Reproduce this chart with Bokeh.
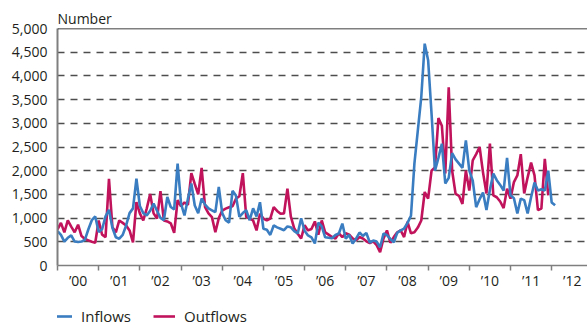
from bokeh.plotting import figure
from bokeh.layouts import column
from bokeh.models import (Range1d, FixedTicker, NumeralTickFormatter, Span,
                          Legend, LegendItem)
from bokeh.embed import file_html
from bokeh.resources import INLINE

# ---------------- data ----------------
START_YEAR = 2000
tick_years = list(range(2000, 2013))
year_labels = ["’00", "’01", "’02", "’03", "’04", "’05", "’06",
               "’07", "’08", "’09", "’10", "’11", "’12"]
y_ticks = [0, 500, 1000, 1500, 2000, 2500, 3000, 3500, 4000, 4500, 5000]
series_names = ["Inflows", "Outflows"]

# monthly values, Jan 2000 onwards
inflows = [
    725, 645, 505, 585, 635, 505, 495, 505, 545, 765, 955, 1035,        # 2000
    705, 765, 1035, 1175, 795, 595, 565, 645, 845, 1105, 1205, 1830,    # 2001
    1255, 1105, 1055, 1155, 1305, 1155, 1005, 955, 1445, 1235, 1185, 2150,  # 2002
    1305, 1055, 1405, 1730, 1265, 1105, 1415, 1285, 1205, 1165, 1125, 1660,  # 2003
    1105, 955, 905, 1575, 1475, 1025, 1105, 1165, 955, 1205, 1035, 1335,    # 2004
    775, 755, 645, 845, 805, 775, 745, 825, 805, 725, 675, 995,         # 2005
    735, 635, 595, 465, 905, 825, 595, 585, 575, 645, 675, 885,         # 2006
    565, 645, 465, 565, 695, 625, 685, 485, 525, 505, 385, 675,         # 2007
    640, 560, 490, 690, 740, 780, 900, 1050, 2150, 2850, 3550, 4680,    # 2008
    4330, 3200, 2000, 2270, 2570, 1730, 1850, 2370, 2240, 2150, 2060, 2640,  # 2009
    2000, 1790, 1230, 1400, 1540, 1170, 1600, 1940, 1800, 1700, 1580, 2270,  # 2010
    1480, 1420, 1100, 1410, 1380, 1100, 1440, 1750, 1580, 1610, 1580, 2000,  # 2011
    1330, 1270,                                                          # 2012
]
outflows = [
    760, 900, 700, 950, 820, 700, 860, 620, 560, 530, 500, 480,         # 2000
    950, 650, 600, 1830, 810, 700, 950, 900, 845, 740, 490, 1335,       # 2001
    1100, 950, 1200, 1510, 1100, 990, 1570, 950, 930, 890, 690, 1380,   # 2002
    1250, 1330, 1280, 1950, 1720, 1500, 2060, 1230, 1100, 1020, 700, 1000,  # 2003
    1160, 1200, 1230, 1250, 1410, 1460, 1950, 1020, 990, 950, 740, 1090,    # 2004
    990, 950, 990, 1230, 1150, 1090, 1100, 1620, 1030, 780, 670, 570,   # 2005
    850, 740, 770, 930, 650, 950, 700, 650, 600, 570, 680, 600,         # 2006
    680, 650, 570, 530, 600, 570, 510, 470, 510, 430, 280, 570,         # 2007
    740, 480, 600, 700, 740, 600, 920, 680, 700, 800, 950, 1550,        # 2008
    1410, 2000, 2070, 3110, 2950, 1940, 3760, 2000, 1510, 1470, 1300, 2000,  # 2009
    1580, 2220, 2350, 2500, 1960, 1520, 2570, 1480, 1440, 1350, 1210, 1620,  # 2010
    1410, 1760, 1900, 2350, 1520, 1860, 2170, 1900, 1170, 1200, 2250, 1480,  # 2011
]

x_in = [START_YEAR + i / 12 for i in range(len(inflows))]
x_out = [START_YEAR + i / 12 for i in range(len(outflows))]

# ---------------- style ----------------
FONT = "Open Sans"
TEXT = "#231f20"
BLUE = "#3a7dc1"
RED = "#c0135c"
AXIS = "#7f7f7f"
LW = 2.6

p = figure(width=587, height=299, output_backend="svg", toolbar_location=None,
           x_range=Range1d(2000, 2012.87), y_range=Range1d(0, 5000),
           min_border_left=57, min_border_right=0, min_border_top=28,
           min_border_bottom=34, title="Number")
p.outline_line_color = None
p.background_fill_color = "white"

p.title.align = "left"
p.title.text_font = FONT
p.title.text_font_size = "14px"
p.title.text_font_style = "normal"
p.title.text_color = TEXT
p.title.standoff = 2

# x axis: year boundary ticks (minor) and mid-year labels
xa = p.xaxis[0]
xa.axis_label = None
xa.ticker = FixedTicker(ticks=[y + 0.5 for y in tick_years], minor_ticks=tick_years)
xa.major_label_overrides = {y + 0.5: lbl for y, lbl in zip(tick_years, year_labels)}
xa.major_tick_line_color = None
xa.major_tick_out = 0
xa.major_tick_in = 0
xa.minor_tick_out = 5
xa.minor_tick_in = 0
xa.minor_tick_line_color = AXIS
xa.minor_tick_line_width = 1.5
xa.axis_line_color = AXIS
xa.axis_line_width = 1.5
xa.major_label_standoff = 0
xa.major_label_text_font = FONT
xa.major_label_text_font_size = "14px"
xa.major_label_text_color = TEXT

ya = p.yaxis[0]
ya.axis_label = None
ya.ticker = FixedTicker(ticks=y_ticks)
ya.formatter = NumeralTickFormatter(format="0,0")
ya.major_tick_line_color = None
ya.major_tick_out = 0
ya.major_tick_in = 0
ya.minor_tick_line_color = None
ya.axis_line_color = AXIS
ya.axis_line_width = 2
ya.major_label_standoff = 10
ya.major_label_text_font = FONT
ya.major_label_text_font_size = "14px"
ya.major_label_text_color = TEXT

p.xgrid.visible = False
p.ygrid.ticker = FixedTicker(ticks=y_ticks[1:-1])
p.ygrid.grid_line_color = "#4d4d4d"
p.ygrid.grid_line_dash = "7 6"
p.ygrid.grid_line_width = 1.4

p.add_layout(Span(location=y_ticks[-1], dimension="width", line_color="black",
                  line_width=1.5))

p.line(x_out, outflows, line_color=RED, line_width=LW)
p.line(x_in, inflows, line_color=BLUE, line_width=LW)

# ---------------- legend strip below the chart ----------------
# the strip's ranges do not contain the data, so its lines stay hidden and
# only serve as legend keys
lg = figure(width=587, height=28, output_backend="svg", toolbar_location=None,
            x_range=Range1d(0, 1), y_range=Range1d(0, 1),
            min_border_left=0, min_border_right=0, min_border_top=0,
            min_border_bottom=0)
lg.axis.visible = False
lg.grid.visible = False
lg.outline_line_color = None
k_in = lg.line(x_in, inflows, line_color=BLUE, line_width=LW)
k_out = lg.line(x_out, outflows, line_color=RED, line_width=LW)

legend = Legend(items=[LegendItem(label=series_names[0], renderers=[k_in]),
                       LegendItem(label=series_names[1], renderers=[k_out])],
                orientation="horizontal", location=(-7, 1),
                glyph_width=22, glyph_height=16, label_height=16,
                label_standoff=9, spacing=22,
                border_line_color=None, background_fill_alpha=0,
                label_text_font=FONT, label_text_font_size="15px",
                label_text_color=TEXT, padding=0, margin=0)
lg.add_layout(legend, "center")

layout = column(p, lg, spacing=0)
open("out.html", "w").write(file_html(layout, INLINE))
